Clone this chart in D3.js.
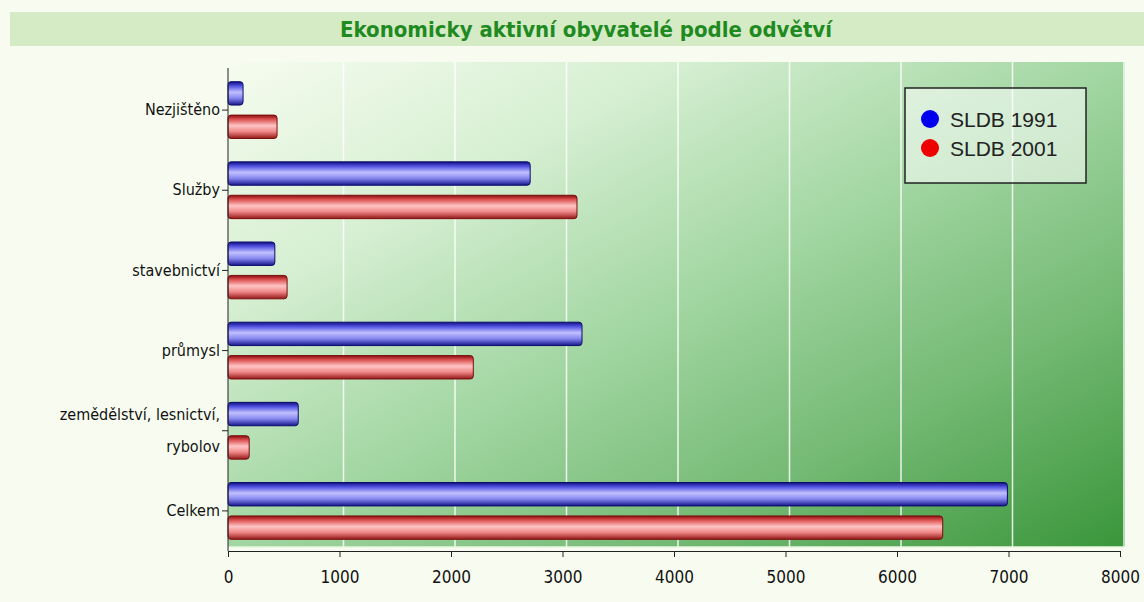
<!DOCTYPE html>
<html>
<head>
<meta charset="utf-8">
<script src="https://cdn.jsdelivr.net/npm/d3@7"></script>
<style>
  body { margin: 0; background: #f8fcf0; }
  svg { display: block; }
</style>
</head>
<body>
<div id="chart"></div>
<script>
const categories = ["Nezjištěno", "Služby", "stavebnictví", "průmysl", "zemědělství, lesnictví, rybolov", "Celkem"]
const seriesNames = ["SLDB 1991", "SLDB 2001"]
const values1991 = [135, 2710, 420, 3175, 630, 6990]
const values2001 = [440, 3130, 530, 2200, 190, 6410]
const xTicks = [0, 1000, 2000, 3000, 4000, 5000, 6000, 7000, 8000]

const width = 1144, height = 602
const margin = { top: 70, right: 24, bottom: 51, left: 228 }

const svg = d3.select("#chart").append("svg")
  .attr("width", width)
  .attr("height", height)

const defs = svg.append("defs")

// plot background gradient: pale top-left to green bottom-right
const bg = defs.append("linearGradient").attr("id", "bg")
  .attr("x1", "0%").attr("y1", "0%").attr("x2", "100%").attr("y2", "100%")
bg.append("stop").attr("offset", "0%").attr("stop-color", "#f6fcef")
bg.append("stop").attr("offset", "25%").attr("stop-color", "#d6efd2")
bg.append("stop").attr("offset", "50%").attr("stop-color", "#a2d6a2")
bg.append("stop").attr("offset", "75%").attr("stop-color", "#72b872")
bg.append("stop").attr("offset", "100%").attr("stop-color", "#3a963a")

// cylinder-like bar gradients
function barGradient(id, stops) {
  const g = defs.append("linearGradient").attr("id", id)
    .attr("x1", 0).attr("y1", 0).attr("x2", 0).attr("y2", 1)
  stops.forEach(([o, c]) => g.append("stop").attr("offset", o).attr("stop-color", c))
}
barGradient("blueBar", [["0%", "#10107e"], ["18%", "#5050e0"], ["45%", "#c0c0ff"], ["70%", "#8888f0"], ["100%", "#16168c"]])
barGradient("redBar", [["0%", "#8a0e0e"], ["18%", "#dc5050"], ["45%", "#ffc4c4"], ["70%", "#f08888"], ["100%", "#941818"]])

// title band
svg.append("rect")
  .attr("x", 10).attr("y", 12)
  .attr("width", width - 10).attr("height", 34)
  .attr("fill", "#d5ebc6")

svg.append("text")
  .attr("x", 586).attr("y", 37)
  .attr("text-anchor", "middle")
  .attr("fill", "#1f8a1f")
  .style("font-family", "DejaVu Sans Condensed")
  .style("font-weight", "bold")
  .style("font-size", "22px")
  .text("Ekonomicky aktivní obyvatelé podle odvětví")

const x = d3.scaleLinear().domain([0, 8000]).range([margin.left, width - margin.right])
const y = d3.scaleBand().domain(categories).range([margin.top, height - margin.bottom])
const inner = d3.scaleBand().domain(seriesNames).range([0, y.bandwidth()]).paddingInner(0.3).paddingOuter(0.35)

// plot background
svg.append("rect")
  .attr("x", x(0)).attr("y", 62)
  .attr("width", x(8000) - x(0) + 5).attr("height", height - margin.bottom - 62 - 4)
  .attr("fill", "url(#bg)")

// gridlines
svg.append("g")
  .selectAll("line")
  .data(xTicks.slice(1))
  .join("line")
  .attr("x1", d => x(d) + 4).attr("x2", d => x(d) + 4)
  .attr("y1", 62).attr("y2", height - margin.bottom - 4)
  .attr("stroke", "#ffffff")
  .attr("stroke-opacity", 0.85)
  .attr("stroke-width", 1.5)

// horizontal pale line near bottom
svg.append("line")
  .attr("x1", x(0)).attr("x2", x(8000) + 5)
  .attr("y1", height - margin.bottom - 4).attr("y2", height - margin.bottom - 4)
  .attr("stroke", "#e8f6e0").attr("stroke-width", 1.5)

const series = [
  { name: seriesNames[0], values: values1991, fill: "url(#blueBar)", stroke: "#0c0c6a" },
  { name: seriesNames[1], values: values2001, fill: "url(#redBar)", stroke: "#780e0e" }
]

series.forEach(s => {
  svg.append("g")
    .selectAll("rect")
    .data(categories.map((c, i) => ({ c, v: s.values[i] })))
    .join("rect")
    .attr("x", x(0))
    .attr("y", d => y(d.c) + inner(s.name))
    .attr("width", d => x(d.v) - x(0))
    .attr("height", inner.bandwidth())
    .attr("rx", 3)
    .attr("fill", s.fill)
    .attr("stroke", s.stroke)
    .attr("stroke-width", 1)
})

// x axis
const xAxis = svg.append("g")
  .attr("transform", `translate(0,${height - margin.bottom})`)
  .call(d3.axisBottom(x).tickValues(xTicks).tickSize(6).tickSizeOuter(0).tickFormat(d3.format("d")))
xAxis.select(".domain").attr("stroke", "#222")
xAxis.selectAll(".tick line").attr("stroke", "#222")
xAxis.selectAll("text")
  .attr("fill", "#111")
  .attr("y", 20)
  .attr("dy", "0.71em")
  .style("font-family", "DejaVu Sans Condensed")
  .style("font-size", "17px")

// y axis
const yAxis = svg.append("g")
  .attr("transform", `translate(${x(0)},0)`)
  .call(d3.axisLeft(y).tickSize(6).tickSizeOuter(0))
yAxis.select(".domain").attr("stroke", "#222").attr("d", `M0,${margin.top - 2}V${height - margin.bottom}`)
yAxis.selectAll(".tick line").attr("stroke", "#222")
yAxis.selectAll("text")
  .attr("fill", "#111")
  .attr("x", -8)
  .style("font-family", "DejaVu Sans Condensed")
  .style("font-size", "16px")
  .each(function (d) {
    if (d.indexOf(", rybolov") > 0) {
      const t = d3.select(this).text(null)
      t.append("tspan").attr("x", -8).attr("dy", "-0.7em").text("zemědělství, lesnictví,")
      t.append("tspan").attr("x", -8).attr("dy", "2.05em").text("rybolov")
    }
  })

// legend
const legend = svg.append("g").attr("transform", "translate(905,88)")
legend.append("rect")
  .attr("width", 181).attr("height", 95)
  .attr("fill", "#ffffff").attr("fill-opacity", 0.55)
  .attr("stroke", "#222").attr("stroke-width", 1.5)
const legendColors = ["#0000ee", "#ee0000"]
seriesNames.forEach((n, i) => {
  legend.append("circle")
    .attr("cx", 25).attr("cy", 31 + i * 29).attr("r", 9)
    .attr("fill", legendColors[i])
  legend.append("text")
    .attr("x", 45).attr("y", 31 + i * 29).attr("dy", "0.36em")
    .attr("fill", "#222")
    .style("font-family", "Liberation Sans")
    .style("font-size", "21px")
    .text(n)
})
</script>
</body>
</html>
